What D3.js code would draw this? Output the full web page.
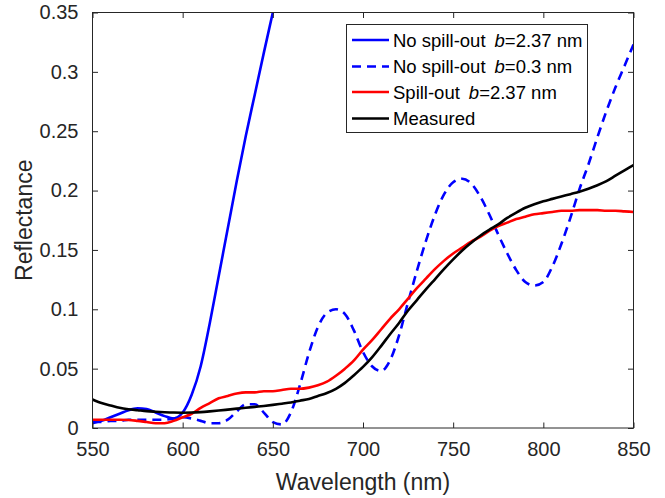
<!DOCTYPE html>
<html>
<head>
<meta charset="utf-8">
<script src="https://cdn.jsdelivr.net/npm/d3@7"></script>
<style>
  html, body { margin: 0; padding: 0; background: #fff; }
  svg { display: block; font-family: "Liberation Sans", Arial, Helvetica, sans-serif; }
</style>
</head>
<body>
<svg id="chart" width="665" height="498"></svg>
<script>
// Wavelength grid (nm), 5 nm steps
const wavelength = d3.range(550, 851, 5);

// No spill-out, b = 2.37 nm (leaves the axes above 0.35)
const noSpillB237 = [
  0.004, 0.006, 0.009, 0.012, 0.015, 0.0165, 0.016, 0.013, 0.010, 0.008,
  0.013, 0.028, 0.052, 0.088, 0.128, 0.168, 0.208, 0.246, 0.281, 0.316,
  0.350, 0.384
];

// No spill-out, b = 0.3 nm
const noSpillB03 = [
  0.005, 0.005, 0.006, 0.006, 0.007, 0.007, 0.007, 0.007, 0.007, 0.008,
  0.009, 0.008, 0.006, 0.004, 0.004, 0.007, 0.014, 0.020, 0.020, 0.013,
  0.005, 0.003, 0.013, 0.036, 0.063, 0.085, 0.097, 0.100, 0.096, 0.082,
  0.064, 0.052, 0.048, 0.057, 0.078, 0.106, 0.133, 0.158, 0.180, 0.197,
  0.207, 0.210, 0.206, 0.195, 0.180, 0.163, 0.147, 0.133, 0.123, 0.120,
  0.123, 0.136, 0.155, 0.177, 0.201, 0.222, 0.245, 0.267, 0.287, 0.305,
  0.323
];

// Spill-out, b = 2.37 nm
const spillB237 = [
  0.007, 0.007, 0.007, 0.007, 0.0068, 0.006, 0.005, 0.004, 0.004, 0.006,
  0.009, 0.012, 0.017, 0.021, 0.025, 0.027, 0.029, 0.030, 0.030, 0.031,
  0.031, 0.032, 0.033, 0.033, 0.034, 0.036, 0.039, 0.044, 0.050, 0.057,
  0.066, 0.074, 0.083, 0.092, 0.100, 0.109, 0.118, 0.126, 0.134, 0.141,
  0.147, 0.152, 0.157, 0.161, 0.166, 0.170, 0.173, 0.176, 0.178, 0.180,
  0.181, 0.182, 0.183, 0.183, 0.1835, 0.1835, 0.1835, 0.183, 0.183, 0.1825,
  0.182
];

// Measured reflectance
const measured = [
  0.024, 0.021, 0.019, 0.017, 0.0158, 0.015, 0.0142, 0.0137, 0.0133, 0.013,
  0.0129, 0.013, 0.0134, 0.014, 0.0147, 0.0155, 0.0163, 0.017, 0.0178, 0.0186,
  0.0195, 0.0205, 0.0215, 0.023, 0.0245, 0.027, 0.0295, 0.033, 0.038, 0.0445,
  0.0515, 0.0595, 0.069, 0.079, 0.0885, 0.099, 0.108, 0.117, 0.1255, 0.134,
  0.142, 0.1495, 0.156, 0.162, 0.167, 0.1715, 0.177, 0.1815, 0.1855, 0.1885,
  0.191, 0.193, 0.195, 0.197, 0.199, 0.2015, 0.2045, 0.208, 0.2125, 0.217,
  0.2215
];

const xTicks = [550, 600, 650, 700, 750, 800, 850];
const yTicks = [0, 0.05, 0.1, 0.15, 0.2, 0.25, 0.3, 0.35];

const series = [
  { name: "No spill-out", b: "2.37", values: noSpillB237, color: "#0000ff", dash: null },
  { name: "No spill-out", b: "0.3",  values: noSpillB03,  color: "#0000ff", dash: "9,6" },
  { name: "Spill-out",    b: "2.37", values: spillB237,   color: "#ff0000", dash: null },
  { name: "Measured",     b: null,   values: measured,    color: "#000000", dash: null }
];

const svg = d3.select("#chart");
const m = { left: 92.5, right: 633.5, top: 12.5, bottom: 428 };
const axisColor = "#262626";

const x = d3.scaleLinear().domain([550, 850]).range([m.left, m.right]);
const y = d3.scaleLinear().domain([0, 0.35]).range([m.bottom, m.top]);

svg.append("defs").append("clipPath").attr("id", "plotClip")
  .append("rect")
  .attr("x", m.left).attr("y", m.top)
  .attr("width", m.right - m.left).attr("height", m.bottom - m.top);

// Curves
const line = d3.line()
  .x((d, i) => x(wavelength[i]))
  .y(d => y(d))
  .curve(d3.curveMonotoneX);

const plot = svg.append("g").attr("clip-path", "url(#plotClip)");
series.forEach(s => {
  plot.append("path")
    .datum(s.values)
    .attr("d", line)
    .attr("fill", "none")
    .attr("stroke", s.color)
    .attr("stroke-width", 2.6)
    .attr("stroke-linejoin", "round")
    .attr("stroke-dasharray", s.dash);
});

// Axes with inward ticks on all four sides
const tickLen = 5.5;
const fs = 20;

const bottomAxis = d3.axisBottom(x).tickValues(xTicks).tickSizeInner(-tickLen).tickSizeOuter(0).tickPadding(14).tickFormat(d3.format("d"));
const topAxis = d3.axisTop(x).tickValues(xTicks).tickSizeInner(-tickLen).tickSizeOuter(0).tickFormat("");
const leftAxis = d3.axisLeft(y).tickValues(yTicks).tickSizeInner(-tickLen).tickSizeOuter(0).tickPadding(14).tickFormat(d => d === 0 ? "0" : String(+d.toFixed(2)));
const rightAxis = d3.axisRight(y).tickValues(yTicks).tickSizeInner(-tickLen).tickSizeOuter(0).tickFormat("");

function style(g) {
  g.select(".domain").remove();
  g.selectAll(".tick line").attr("stroke", axisColor).attr("stroke-width", 1);
  g.selectAll(".tick text").attr("fill", axisColor).attr("font-size", fs)
    .attr("font-family", "Liberation Sans, Arial, sans-serif");
}

svg.append("g").attr("transform", `translate(0,${m.bottom})`).call(bottomAxis).call(style);
svg.append("g").attr("transform", `translate(0,${m.top})`).call(topAxis).call(style);
svg.append("g").attr("transform", `translate(${m.left},0)`).call(leftAxis).call(style);
svg.append("g").attr("transform", `translate(${m.right},0)`).call(rightAxis).call(style);

svg.append("rect")
  .attr("x", m.left).attr("y", m.top)
  .attr("width", m.right - m.left).attr("height", m.bottom - m.top)
  .attr("fill", "none").attr("stroke", axisColor).attr("stroke-width", 1);

// Axis titles
svg.append("text")
  .attr("x", (m.left + m.right) / 2).attr("y", 490)
  .attr("text-anchor", "middle").attr("font-size", 23).attr("fill", axisColor)
  .text("Wavelength (nm)");

svg.append("text")
  .attr("transform", `translate(32,${(m.top + m.bottom) / 2}) rotate(-90)`)
  .attr("text-anchor", "middle").attr("font-size", 23).attr("fill", axisColor)
  .text("Reflectance");

// Legend
const lg = svg.append("g");
lg.append("rect")
  .attr("x", 346.5).attr("y", 24.5).attr("width", 241).attr("height", 108)
  .attr("fill", "#fff").attr("stroke", axisColor).attr("stroke-width", 1);

const rowY = [40, 66.5, 92, 118.5];
series.forEach((s, i) => {
  lg.append("line")
    .attr("x1", 352).attr("x2", 389).attr("y1", rowY[i]).attr("y2", rowY[i])
    .attr("stroke", s.color).attr("stroke-width", 2.6)
    .attr("stroke-dasharray", s.dash);
  const t = lg.append("text")
    .attr("x", 393).attr("y", rowY[i] + 6.5)
    .attr("font-size", 18.5).attr("fill", "#000");
  t.append("tspan").text(s.name);
  if (s.b) {
    t.append("tspan").attr("dx", 9).attr("font-style", "italic").text("b");
    t.append("tspan").text("=" + s.b + " nm");
  }
});
</script>
</body>
</html>
